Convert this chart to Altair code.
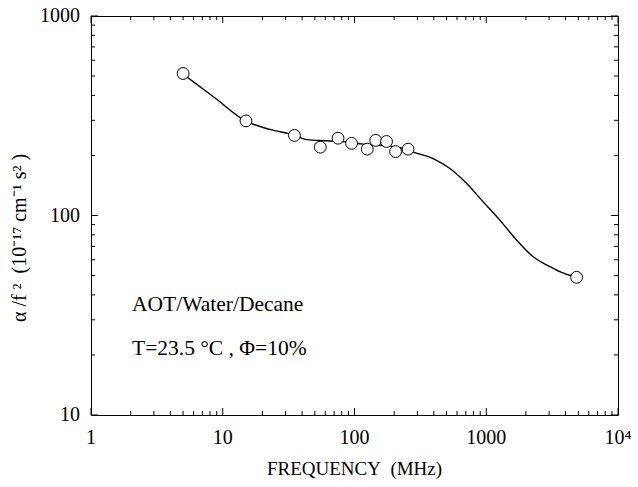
import altair as alt
import pandas as pd

# measured data points (MHz, 10^-17 cm^-1 s^2)
freq = [5, 15, 35, 55, 75, 95, 125, 145, 175, 205, 255, 4850]
alpha = [515, 298, 252, 220, 244, 230, 215, 238, 235, 209, 215, 49]

# fitted curve
curve_f = [5.0, 8.7, 15.0, 22.8, 34.7, 43.3, 61.4, 87.1, 115.8, 155.8, 221, 279,
           395, 530, 708, 948, 1268, 1698, 2270, 3040, 3615, 4850]
curve_a = [511, 389, 297, 270, 253, 240, 237, 234, 228, 225, 219, 208,
           193, 172, 145, 117, 94.8, 75.3, 62.1, 55.4, 52.3, 49]

x_labels = [1, 10, 100, 1000, 10000]
x_label_text = ["1", "10", "100", "1000", "10⁴"]
y_labels = [10, 100, 1000]
y_label_text = ["10", "100", "1000"]
x_minor = [m * 10 ** k for k in range(4) for m in range(2, 10)]
y_minor = [m * 10 ** k for k in range(1, 3) for m in range(2, 10)]

x_title = "FREQUENCY\u00a0\u00a0(MHz)"
y_title = "α /f ²\u00a0\u00a0(10⁻¹⁷\u00a0cm⁻¹\u00a0s²\u00a0)"
note1 = "AOT/Water/Decane"
note2 = "T=23.5 °C , Φ=10%"

pts = pd.DataFrame({"f": freq, "a": alpha})
crv = pd.DataFrame({"f": curve_f, "a": curve_a})

FONT = "Liberation Serif"
W, H = 527, 399
XS = alt.Scale(type="log", domain=[1, 10000])
YS = alt.Scale(type="log", domain=[10, 1000])
MINOR, MAJOR = 4, 7


def X(field):
    return alt.X(field, type="quantitative", scale=XS, axis=None)


def Y(field):
    return alt.Y(field, type="quantitative", scale=YS, axis=None)


line = alt.Chart(crv).mark_line(color="black", strokeWidth=1.4, interpolate="monotone").encode(
    x=X("f"), y=Y("a"))

points = alt.Chart(pts).mark_point(shape="circle", size=140, filled=False, fill="white",
                                   fillOpacity=1, stroke="black", strokeWidth=1,
                                   opacity=1).encode(x=X("f"), y=Y("a"))


def tick_marks(values, length, channel, edge_pos, path):
    df = pd.DataFrame({"tv": values})
    mark = alt.Chart(df).mark_point(shape=path, size=length * length, filled=False,
                                    stroke="black", strokeWidth=1, opacity=1)
    if channel == "x":
        return mark.encode(x=X("tv"), y=alt.value(edge_pos))
    return mark.encode(y=Y("tv"), x=alt.value(edge_pos))


ticks = []
for vals, ln in ((x_minor, MINOR), (x_labels, MAJOR)):
    ticks.append(tick_marks(vals, ln, "x", H, "M0,0V-2"))
    ticks.append(tick_marks(vals, ln, "x", 0, "M0,0V2"))
for vals, ln in ((y_minor, MINOR), (y_labels, MAJOR)):
    ticks.append(tick_marks(vals, ln, "y", 0, "M0,0H2"))
    ticks.append(tick_marks(vals, ln, "y", W, "M0,0H-2"))

xlab = alt.Chart(pd.DataFrame({"lx": x_labels, "t": x_label_text})).mark_text(
    font=FONT, fontSize=20, align="center", baseline="top", color="black"
).encode(x=X("lx"), y=alt.value(H + 13), text="t:N")

ylab = alt.Chart(pd.DataFrame({"ly": y_labels, "t": y_label_text})).mark_text(
    font=FONT, fontSize=20, align="right", baseline="middle", color="black"
).encode(y=Y("ly"), x=alt.value(-11), text="t:N")

xtit = alt.Chart(pd.DataFrame({"t": [x_title]})).mark_text(
    font=FONT, fontSize=19, align="center", baseline="top", color="black"
).encode(text="t:N", x=alt.value(W / 2), y=alt.value(H + 45))

ytit = alt.Chart(pd.DataFrame({"t": [y_title]})).mark_text(
    font=FONT, fontSize=20, align="center", baseline="bottom", angle=270, color="black"
).encode(text="t:N", x=alt.value(-61), y=alt.value(222))

t1 = alt.Chart(pd.DataFrame({"t": [note1]})).mark_text(
    font=FONT, fontSize=21.5, align="left", baseline="alphabetic", color="black"
).encode(text="t:N", x=alt.value(41), y=alt.value(295))

t2 = alt.Chart(pd.DataFrame({"t": [note2]})).mark_text(
    font=FONT, fontSize=21.5, align="left", baseline="alphabetic", color="black"
).encode(text="t:N", x=alt.value(41), y=alt.value(339))

chart = alt.layer(line, points, xlab, ylab, xtit, ytit, t1, t2, *ticks).properties(
    width=W, height=H,
    autosize=alt.AutoSizeParams(type="none"),
    padding={"left": 91, "top": 16, "right": 20, "bottom": 72},
    background="white",
).configure_view(stroke="black", strokeWidth=1)

chart.save("out.html", embed_options={"renderer": "svg", "actions": False})
